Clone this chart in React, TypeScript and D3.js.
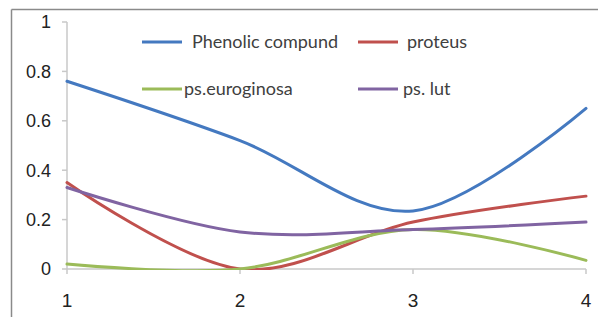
import * as d3 from "d3";

const xValues = [1, 2, 3, 4];
const phenolic = [0.76, 0.52, 0.235, 0.65];
const proteus = [0.35, 0.0, 0.19, 0.295];
const euroginosa = [0.02, 0.0, 0.16, 0.035];
const psLut = [0.33, 0.15, 0.16, 0.19];
const yTicks = [0, 0.2, 0.4, 0.6, 0.8, 1];

const series = [
  { name: "Phenolic compund", values: phenolic, color: "#4479C0" },
  { name: "proteus", values: proteus, color: "#C0504D" },
  { name: "ps.euroginosa", values: euroginosa, color: "#9BBB59" },
  { name: "ps. lut", values: psLut, color: "#8064A2" },
];

const W = 598;
const H = 317;
const left = 67;
const right = 586;
const top = 22;
const bottom = 269;

export default function App() {
  const x = d3.scaleLinear().domain([1, 4]).range([left, right]);
  const y = d3.scaleLinear().domain([0, 1]).range([bottom, top]);

  const line = d3
    .line<number>()
    .x((_, i) => x(xValues[i]))
    .y((d) => y(d))
    .curve(d3.curveCatmullRom.alpha(0));

  // legend slots: two rows, two columns
  const legendPos = [
    { lx: 142, ly: 42, tx: 192 },
    { lx: 358, ly: 42, tx: 407 },
    { lx: 142, ly: 89, tx: 184 },
    { lx: 358, ly: 89, tx: 403 },
  ];

  return (
    <svg
      width={W}
      height={H}
      style={{ position: "absolute", left: 0, top: 0, background: "#fff" }}
    >
      <defs>
        <clipPath id="plot">
          <rect x={left - 2} y={top - 5} width={right - left + 6} height={bottom - top + 6} />
        </clipPath>
      </defs>

      {/* frame */}
      <line x1={11.5} x2={W} y1={9.5} y2={9.5} stroke="#8a8a8a" strokeWidth={1.5} />
      <line x1={11.5} x2={11.5} y1={9.5} y2={H} stroke="#8a8a8a" strokeWidth={1.5} />

      {/* axes */}
      <line x1={left} x2={left} y1={top} y2={bottom} stroke="#c8c8c8" strokeWidth={1.5} />
      <line x1={left} x2={right} y1={bottom} y2={bottom} stroke="#c8c8c8" strokeWidth={1.5} />
      {yTicks.map((t) => (
        <g key={"y" + t}>
          <line x1={left - 5} x2={left} y1={y(t)} y2={y(t)} stroke="#c8c8c8" strokeWidth={1.5} />
          <text
            x={51}
            y={y(t)}
            dy="0.36em"
            textAnchor="end"
            fontFamily="Liberation Sans, Arial, sans-serif"
            fontSize={18}
            fill="#222"
          >
            {d3.format("")(t)}
          </text>
        </g>
      ))}
      {xValues.map((v) => (
        <g key={"x" + v}>
          <line x1={x(v)} x2={x(v)} y1={bottom} y2={bottom + 5} stroke="#c8c8c8" strokeWidth={1.5} />
          <text
            x={x(v)}
            y={307}
            textAnchor="middle"
            fontFamily="Liberation Sans, Arial, sans-serif"
            fontSize={19}
            fill="#222"
          >
            {v}
          </text>
        </g>
      ))}

      {/* lines */}
      <g clipPath="url(#plot)">
        {series.map((s) => (
          <path
            key={s.name}
            d={line(s.values) ?? ""}
            fill="none"
            stroke={s.color}
            strokeWidth={3}
            strokeLinecap="round"
          />
        ))}
      </g>

      {/* legend */}
      {series.map((s, i) => {
        const p = legendPos[i];
        return (
          <g key={"lg" + s.name}>
            <line x1={p.lx} x2={p.lx + 40} y1={p.ly} y2={p.ly} stroke={s.color} strokeWidth={3} />
            <text
              x={p.tx}
              y={p.ly}
              dy="0.35em"
              fontFamily="Lato, Open Sans, sans-serif"
              fontSize={18}
              fill="#404040"
            >
              {s.name}
            </text>
          </g>
        );
      })}
    </svg>
  );
}
